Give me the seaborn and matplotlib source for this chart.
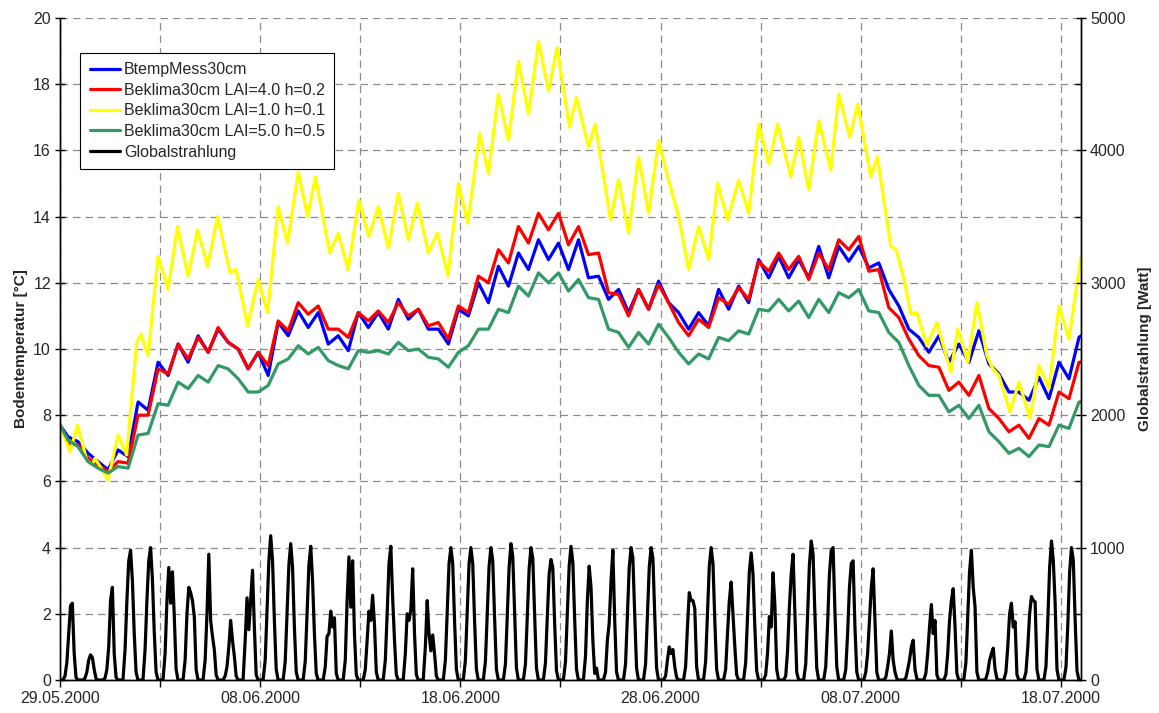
import numpy as np
import pandas as pd
import matplotlib
matplotlib.use("Agg")
import matplotlib.pyplot as plt
import seaborn as sns
from matplotlib.ticker import MultipleLocator

# x axis: days since 29.05.2000 00:00
tick_days = [0, 10, 20, 30, 40, 50]
tick_labels = ["29.05.2000", "08.06.2000", "18.06.2000", "28.06.2000", "08.07.2000", "18.07.2000"]

# common time grid for measured / red / green series (day fractions)
t_grid = [0.0] + [round(v, 2) for v in np.arange(0.4, 51.0, 0.5)] + [51.0]

btemp_mess = [7.7, 7.35, 7.2, 6.85, 6.6, 6.35, 6.95, 6.75, 8.4, 8.15,
              9.6, 9.2, 10.15, 9.6, 10.4, 9.9, 10.6, 10.2, 10.0, 9.4,
              9.9, 9.2, 10.8, 10.4, 11.15, 10.65, 11.1, 10.15, 10.4, 9.95,
              11.1, 10.65, 11.1, 10.6, 11.5, 10.9, 11.2, 10.6, 10.6, 10.15,
              11.2, 11.0, 12.0, 11.4, 12.5, 11.9, 12.9, 12.4, 13.3, 12.7,
              13.2, 12.4, 13.3, 12.15, 12.2, 11.5, 11.8, 11.1, 11.8, 11.2,
              12.05, 11.4, 11.1, 10.6, 11.1, 10.7, 11.8, 11.2, 11.9, 11.4,
              12.7, 12.15, 12.8, 12.15, 12.7, 12.15, 13.1, 12.15, 13.1, 12.65,
              13.1, 12.45, 12.6, 11.8, 11.3, 10.6, 10.35, 9.9, 10.4, 9.6,
              10.15, 9.6, 10.55, 9.55, 9.25, 8.7, 8.7, 8.45, 9.15, 8.5,
              9.6, 9.1, 10.35, 10.4]

beklima_lai4 = [7.7, 7.15, 7.1, 6.7, 6.5, 6.3, 6.6, 6.55, 8.0, 8.0,
                9.4, 9.25, 10.15, 9.7, 10.35, 9.9, 10.65, 10.2, 10.0, 9.4,
                9.9, 9.5, 10.85, 10.55, 11.4, 11.05, 11.3, 10.6, 10.6, 10.35,
                11.1, 10.85, 11.15, 10.8, 11.4, 11.0, 11.2, 10.7, 10.8, 10.3,
                11.3, 11.1, 12.2, 12.0, 13.0, 12.6, 13.7, 13.2, 14.1, 13.6,
                14.1, 13.15, 13.7, 12.85, 12.9, 11.7, 11.65, 11.0, 11.8, 11.2,
                11.95, 11.4, 10.8, 10.4, 10.9, 10.65, 11.55, 11.35, 11.85, 11.5,
                12.65, 12.35, 12.9, 12.4, 12.8, 12.1, 12.9, 12.4, 13.3, 13.0,
                13.4, 12.35, 12.4, 11.25, 10.95, 10.3, 9.8, 9.5, 9.45, 8.75,
                9.0, 8.6, 9.2, 8.2, 7.9, 7.5, 7.7, 7.3, 7.9, 7.7,
                8.7, 8.5, 9.6, 9.6]

beklima_lai5 = [7.7, 7.25, 7.05, 6.6, 6.4, 6.25, 6.45, 6.4, 7.4, 7.45,
                8.35, 8.3, 9.0, 8.8, 9.2, 9.0, 9.5, 9.4, 9.1, 8.7,
                8.7, 8.9, 9.55, 9.7, 10.1, 9.85, 10.05, 9.65, 9.5, 9.4,
                9.95, 9.9, 9.95, 9.85, 10.2, 9.95, 10.0, 9.75, 9.7, 9.45,
                9.9, 10.1, 10.6, 10.6, 11.2, 11.1, 11.9, 11.6, 12.3, 12.0,
                12.3, 11.75, 12.1, 11.55, 11.5, 10.6, 10.5, 10.05, 10.5, 10.15,
                10.75, 10.35, 9.9, 9.55, 9.85, 9.7, 10.35, 10.25, 10.55, 10.45,
                11.2, 11.15, 11.5, 11.15, 11.45, 10.95, 11.5, 11.1, 11.7, 11.55,
                11.8, 11.15, 11.1, 10.5, 10.2, 9.5, 8.9, 8.6, 8.6, 8.1,
                8.3, 7.9, 8.3, 7.5, 7.2, 6.85, 7.0, 6.75, 7.1, 7.05,
                7.7, 7.6, 8.4, 8.4]

# LAI=1.0 series, read at its daily extremes
lai1_t = [0.0, 0.5, 0.88, 1.33, 1.6, 1.75, 1.95, 2.4, 2.9, 3.33,
          3.83, 4.04, 4.4, 4.9, 5.4, 5.87, 6.4, 6.87, 7.37, 7.87,
          8.5, 8.8, 9.37, 9.9, 10.37, 10.9, 11.37, 11.9, 12.37, 12.76,
          13.47, 13.9, 14.39, 14.93, 15.42, 15.9, 16.4, 16.9, 17.4, 17.85,
          18.4, 18.85, 19.38, 19.9, 20.37, 20.96, 21.4, 21.9, 22.4, 22.9,
          23.4, 23.9, 24.4, 24.83, 25.45, 25.8, 26.4, 26.73, 27.5, 27.9,
          28.4, 28.9, 29.4, 29.9, 30.4, 30.9, 31.4, 31.9, 32.4, 32.85,
          33.35, 33.9, 34.4, 34.9, 35.4, 35.85, 36.5, 36.9, 37.4, 37.9,
          38.5, 38.9, 39.45, 39.85, 40.5, 40.83, 41.5, 41.77, 42.2, 42.5,
          42.8, 43.3, 43.8, 44.5, 44.85, 45.35, 45.8, 46.3, 46.6, 46.9,
          47.45, 47.9, 48.45, 48.9, 49.4, 49.9, 50.4, 51.0]
lai1_v = [7.7, 6.9, 7.7, 6.65, 6.5, 6.7, 6.5, 6.05, 7.4, 6.8,
          10.2, 10.45, 9.8, 12.8, 11.8, 13.7, 12.2, 13.6, 12.5, 14.0,
          12.3, 12.4, 10.7, 12.1, 11.1, 14.3, 13.2, 15.35, 14.0, 15.2,
          12.9, 13.5, 12.4, 14.5, 13.4, 14.3, 13.05, 14.7, 13.3, 14.4,
          12.9, 13.5, 12.2, 15.0, 13.8, 16.5, 15.3, 17.7, 16.3, 18.7,
          17.1, 19.3, 17.8, 19.1, 16.7, 17.6, 16.1, 16.8, 13.9, 15.1,
          13.5, 15.8, 14.1, 16.3, 15.1, 14.0, 12.4, 13.7, 12.7, 15.0,
          13.9, 15.1, 14.1, 16.8, 15.6, 16.8, 15.2, 16.4, 14.8, 16.9,
          15.4, 17.7, 16.4, 17.4, 15.2, 15.8, 13.1, 13.0, 12.0, 11.05,
          11.1, 10.1, 10.8, 9.3, 10.6, 9.6, 11.4, 9.8, 9.4, 9.2,
          8.1, 9.0, 7.9, 9.5, 8.8, 11.3, 10.3, 12.8]

# Globalstrahlung [W], seven daytime readings per day (zero at sunrise / sunset)
rad_hours = [3.5, 6.0, 8.2, 10.4, 12.6, 14.8, 17.0, 19.2, 21.5]
rad_day = [
    [30, 130, 350, 560, 580, 200, 20], [15, 60, 150, 190, 170, 80, 10],
    [15, 80, 250, 600, 700, 200, 20], [230, 600, 900, 980, 750, 350, 60],
    [230, 600, 900, 1000, 760, 360, 60], [200, 600, 850, 580, 817, 480, 80],
    [150, 500, 700, 660, 600, 480, 80], [150, 500, 950, 450, 330, 230, 40],
    [30, 100, 250, 450, 300, 180, 30], [300, 620, 380, 600, 829, 400, 40],
    [150, 520, 900, 1090, 900, 450, 80], [140, 500, 870, 1030, 850, 400, 60],
    [140, 500, 870, 1010, 750, 350, 50], [100, 330, 350, 520, 400, 470, 50],
    [150, 600, 930, 550, 900, 350, 40], [80, 300, 520, 450, 640, 420, 60],
    [150, 500, 880, 1010, 620, 300, 40], [200, 500, 450, 530, 840, 350, 40],
    [250, 600, 350, 220, 340, 200, 30], [150, 520, 880, 1000, 880, 450, 80],
    [150, 520, 880, 1000, 880, 450, 80], [140, 500, 860, 1000, 900, 470, 80],
    [120, 480, 850, 1030, 930, 500, 90], [120, 470, 840, 1000, 920, 490, 90],
    [130, 480, 800, 910, 850, 430, 70], [140, 500, 860, 1010, 890, 460, 80],
    [180, 600, 860, 700, 300, 50, 90], [60, 300, 430, 750, 980, 450, 60],
    [120, 480, 850, 1000, 920, 490, 90], [120, 480, 850, 1000, 920, 490, 90],
    [30, 150, 250, 200, 230, 100, 20], [100, 400, 660, 600, 600, 540, 100],
    [140, 500, 860, 1000, 880, 450, 80], [80, 350, 600, 740, 500, 250, 40],
    [130, 480, 820, 960, 800, 400, 70], [40, 200, 480, 400, 810, 570, 80],
    [30, 220, 550, 800, 950, 500, 60], [120, 480, 870, 1050, 950, 500, 90],
    [100, 420, 800, 980, 1000, 520, 100], [80, 350, 700, 880, 900, 400, 60],
    [60, 200, 450, 700, 840, 460, 60], [20, 100, 200, 370, 150, 60, 10],
    [15, 80, 150, 250, 300, 80, 10], [50, 200, 400, 570, 350, 450, 40],
    [40, 200, 450, 600, 690, 400, 50], [130, 480, 820, 980, 700, 550, 60],
    [10, 60, 150, 200, 240, 80, 10], [60, 250, 500, 580, 400, 440, 40],
    [60, 250, 500, 630, 600, 590, 80], [100, 450, 850, 1050, 900, 580, 80],
    [100, 420, 820, 1000, 900, 450, 70],
]

rad_t, rad_w = [0.0], [0.0]
for d, vals in enumerate(rad_day):
    for h, v in zip(rad_hours, [0] + vals + [0]):
        rad_t.append(d + h / 24)
        rad_w.append(v)
rad_t.append(51.0)
rad_w.append(0.0)

sns.set_theme(style="white")
plt.rcParams['font.family'] = ['Liberation Sans', 'DejaVu Sans']

fig = plt.figure(figsize=(11.59, 7.13), dpi=100)
ax = fig.add_axes([60 / 1159, 33 / 713, 1021 / 1159, 662 / 713])
ax2 = ax.twinx()

lw = 2.3
sns.lineplot(x=t_grid, y=btemp_mess, ax=ax, color="#0000FF", lw=lw, sort=False,
             estimator=None, label="BtempMess30cm")
sns.lineplot(x=t_grid, y=beklima_lai4, ax=ax, color="#FF0000", lw=lw, sort=False,
             estimator=None, label="Beklima30cm LAI=4.0 h=0.2")
sns.lineplot(x=lai1_t, y=lai1_v, ax=ax, color="#FFFF00", lw=lw, sort=False,
             estimator=None, label="Beklima30cm LAI=1.0 h=0.1")
sns.lineplot(x=t_grid, y=beklima_lai5, ax=ax, color="#339966", lw=lw, sort=False,
             estimator=None, label="Beklima30cm LAI=5.0 h=0.5")
sns.lineplot(x=rad_t, y=rad_w, ax=ax2, color="black", lw=lw, sort=False,
             estimator=None, label="Globalstrahlung")

ax.set_xlim(0, 51)
ax.set_ylim(0, 20)
ax2.set_ylim(0, 5000)

ax.set_xticks(tick_days)
ax.set_xticklabels(tick_labels)
ax.xaxis.set_minor_locator(MultipleLocator(5))
ax.set_yticks(np.arange(0, 21, 2))
ax2.set_yticks(np.arange(0, 5001, 1000))
ax2.yaxis.set_minor_locator(MultipleLocator(500))

ax.set_axisbelow(True)
ax.grid(True, which="both", axis="x", color="#8c8c8c", linestyle=(0, (6, 4)), linewidth=0.9)
ax.grid(True, which="major", axis="y", color="#8c8c8c", linestyle=(0, (6, 4)), linewidth=0.9)
ax2.grid(False)

for a in (ax, ax2):
    a.spines["top"].set_visible(False)
    for s in ("left", "right", "bottom"):
        a.spines[s].set_color("black")
        a.spines[s].set_linewidth(1.0)

fs = 11.5
ax.tick_params(axis="x", which="both", direction="out", length=5, width=1, color="black",
               labelsize=fs, pad=3, bottom=True)
ax.tick_params(axis="y", which="major", direction="inout", length=7, width=1, color="black",
               labelsize=fs, pad=3, left=True)
ax2.tick_params(axis="y", which="major", direction="inout", length=7, width=1, color="black",
                labelsize=fs, pad=3, right=True)
ax2.tick_params(axis="y", which="minor", direction="in", length=4, width=1, color="black", right=True)

ax.set_xlabel("")
ax.set_ylabel("Bodentemperatur [°C]", fontsize=11, fontweight="bold", labelpad=4)
ax2.set_ylabel("Globalstrahlung [Watt]", fontsize=11, fontweight="bold", labelpad=9)

for a in (ax, ax2):
    if a.get_legend() is not None:
        a.get_legend().remove()
h1, l1 = ax.get_legend_handles_labels()
h2, l2 = ax2.get_legend_handles_labels()
leg = ax2.legend(h1 + h2, l1 + l2, loc="upper left",
                 bbox_to_anchor=(20 / 1021, (680 - 52.7) / 662), borderaxespad=0,
                 frameon=True, fancybox=False, framealpha=1, edgecolor="black",
                 fontsize=fs, handlelength=1.9, handletextpad=0.25, labelspacing=0.35,
                 borderpad=0.6)
leg.get_frame().set_linewidth(0.8)

fig.savefig("out.png", dpi=100)
